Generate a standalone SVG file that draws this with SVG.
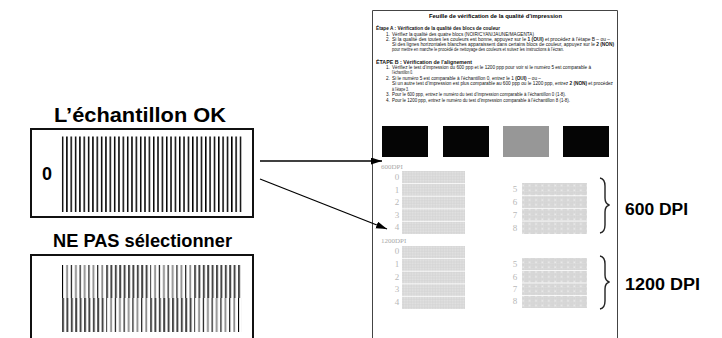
<svg xmlns="http://www.w3.org/2000/svg" width="722" height="338" viewBox="0 0 722 338">
<style>
.hd{font-family:"Liberation Sans",Arial,sans-serif;font-weight:bold;fill:#000}
.pt{font-family:"Liberation Sans",Arial,sans-serif;font-size:4.6px;fill:#111}
.pb{font-weight:bold}
.dg{font-family:"Liberation Serif","Times New Roman",serif;font-size:9px;fill:#b8b8b8;text-anchor:middle}
.dl{font-family:"Liberation Serif","Times New Roman",serif;font-size:7px;fill:#a8a8a8}
.conn{stroke:#000;stroke-width:1.3;fill:none}
.brace{stroke:#222;stroke-width:1.4;fill:none}
</style>
<defs>
<marker id="ah" markerUnits="userSpaceOnUse" markerWidth="12" markerHeight="8" refX="11" refY="3.5" orient="auto">
<path d="M0,0 L11,3.5 L0,7 z" fill="#000"/>
</marker>
<pattern id="vl" patternUnits="userSpaceOnUse" x="61.8" y="0" width="4.34" height="10">
<rect x="0" y="0" width="1.5" height="10" fill="#000"/>
</pattern>
<pattern id="alt" patternUnits="userSpaceOnUse" x="62" y="0" width="8.8" height="10">
<rect x="0" y="0" width="1.1" height="10" fill="#000"/>
<rect x="4.2" y="0" width="1.8" height="10" fill="#8a8a8a"/>
</pattern>
<pattern id="drk" patternUnits="userSpaceOnUse" x="62" y="0" width="4.4" height="10">
<rect x="0" y="0" width="2" height="10" fill="#454545"/>
</pattern>
<pattern id="grid" patternUnits="userSpaceOnUse" width="1.6" height="1.6">
<rect width="1.6" height="1.6" fill="#e2e2e2"/>
<path d="M0,0.3 H1.6 M0.3,0 V1.6" stroke="#d2d2d2" stroke-width="0.5"/>
</pattern>
<pattern id="grid2" patternUnits="userSpaceOnUse" width="6.4" height="4.8">
<rect width="6.4" height="4.8" fill="#dedede"/>
<path d="M0,0.3 H6.4 M0,1.9 H6.4 M0,3.5 H6.4 M0.3,0 V4.8 M1.9,0 V4.8 M3.5,0 V4.8 M5.1,0 V4.8" stroke="#d0d0d0" stroke-width="0.5"/>
<rect x="4" y="2.4" width="1.6" height="1.6" fill="#ececec"/>
</pattern>
</defs>
<rect width="722" height="338" fill="#fff"/>

<g id="page">
<path d="M372.5,338 V10.5 H617.5 V338" fill="none" stroke="#444" stroke-width="1"/>
<text class="hd" x="495.5" y="17.5" font-size="5.6" text-anchor="middle" textLength="133" lengthAdjust="spacingAndGlyphs">Feuille de vérification de la qualité d’impression</text>
<text class="pt pb" x="376" y="30" textLength="124" lengthAdjust="spacingAndGlyphs">Étape A :  Vérification de la qualité des blocs de couleur</text>
<text class="pt" x="386" y="36">1.</text>
<text class="pt" x="392" y="36" textLength="142" lengthAdjust="spacingAndGlyphs">Vérifiez la qualité des quatre blocs (NOIR/CYAN/JAUNE/MAGENTA)</text>
<text class="pt" x="386" y="41">2.</text>
<text class="pt" x="392" y="41" textLength="218" lengthAdjust="spacingAndGlyphs">Si la qualité des toutes les couleurs est bonne, appuyez sur le <tspan class="pb">1 (OUI)</tspan> et procédez à l’étape B – ou –</text>
<text class="pt" x="392" y="46" textLength="222" lengthAdjust="spacingAndGlyphs">Si des lignes horizontales blanches apparaissent dans certains blocs de couleur, appuyez sur le <tspan class="pb">2 (NON)</tspan></text>
<text class="pt" x="392" y="51" textLength="172" lengthAdjust="spacingAndGlyphs">pour mettre en marche le procédé de nettoyage des couleurs et suivez les instructions à l’écran.</text>
<text class="pt pb" x="376" y="64" textLength="96" lengthAdjust="spacingAndGlyphs">ÉTAPE B :  Vérification de l’alignement</text>
<text class="pt" x="386" y="69">1.</text>
<text class="pt" x="392" y="69" textLength="199" lengthAdjust="spacingAndGlyphs">Vérifiez le test d’impression du 600 ppp et le 1200 ppp pour voir si le numéro 5 est comparable à</text>
<text class="pt" x="392" y="74" textLength="21" lengthAdjust="spacingAndGlyphs">l’échantillon 0.</text>
<text class="pt" x="386" y="80">2.</text>
<text class="pt" x="392" y="80" textLength="149" lengthAdjust="spacingAndGlyphs">Si le numéro 5 est comparable à l’échantillon 0, entrez le 1 <tspan class="pb">(OUI)</tspan> – ou –</text>
<text class="pt" x="392" y="85" textLength="221" lengthAdjust="spacingAndGlyphs">Si un autre test d’impression est plus comparable au 600 ppp ou le 1200 ppp, entrez <tspan class="pb">2 (NON)</tspan> et procédez</text>
<text class="pt" x="392" y="91" textLength="17" lengthAdjust="spacingAndGlyphs">à l’étape 3.</text>
<text class="pt" x="386" y="96">3.</text>
<text class="pt" x="392" y="96" textLength="174" lengthAdjust="spacingAndGlyphs">Pour le 600 ppp, entrez le numéro du test d’impression comparable à l’échantillon 0 (1-8).</text>
<text class="pt" x="386" y="102">4.</text>
<text class="pt" x="392" y="102" textLength="178" lengthAdjust="spacingAndGlyphs">Pour le 1200 ppp, entrez le numéro du test d’impression comparable à l’échantillon 8 (1-8).</text>

<rect x="382" y="126" width="46" height="31" fill="#050505"/>
<rect x="443" y="126" width="46" height="31" fill="#050505"/>
<rect x="503" y="126" width="46" height="31" fill="#979797"/>
<rect x="563" y="126" width="46" height="31" fill="#050505"/>

<text class="dl" x="381" y="169">600DPI</text>
<rect x="402" y="171" width="63" height="63" fill="url(#grid)"/>
<path d="M402,183.6 H465 M402,196.2 H465 M402,208.8 H465 M402,221.4 H465" stroke="#fff" stroke-width="0.8"/>
<text class="dg" x="397" y="180">0</text>
<text class="dg" x="397" y="192.5">1</text>
<text class="dg" x="397" y="205">2</text>
<text class="dg" x="397" y="217.5">3</text>
<text class="dg" x="397" y="230">4</text>
<rect x="522" y="183" width="65" height="51" fill="url(#grid2)"/>
<path d="M522,195.7 H587 M522,208.4 H587 M522,221.1 H587" stroke="#fff" stroke-width="0.8"/>
<text class="dg" x="515" y="192">5</text>
<text class="dg" x="515" y="205">6</text>
<text class="dg" x="515" y="217.5">7</text>
<text class="dg" x="515" y="230.5">8</text>

<text class="dl" x="381" y="243">1200DPI</text>
<rect x="402" y="246" width="63" height="63" fill="url(#grid)"/>
<path d="M402,258.6 H465 M402,271.2 H465 M402,283.8 H465 M402,296.4 H465" stroke="#fff" stroke-width="0.8"/>
<text class="dg" x="397" y="254">0</text>
<text class="dg" x="397" y="267">1</text>
<text class="dg" x="397" y="280">2</text>
<text class="dg" x="397" y="291.5">3</text>
<text class="dg" x="397" y="305">4</text>
<rect x="522" y="258" width="65" height="50" fill="url(#grid2)"/>
<path d="M522,270.5 H587 M522,283 H587 M522,295.5 H587" stroke="#fff" stroke-width="0.8"/>
<text class="dg" x="515" y="267">5</text>
<text class="dg" x="515" y="280">6</text>
<text class="dg" x="515" y="292">7</text>
<text class="dg" x="515" y="304">8</text>
</g>

<g id="label-600">
<path class="brace" d="M600,178 Q605,179 605,186 V198 Q605,204 609.5,205 Q605,206 605,212 V225 Q605,232 600,233"/>
<text class="hd" x="625" y="215" font-size="16" textLength="63" lengthAdjust="spacingAndGlyphs">600 DPI</text>
</g>

<g id="label-1200">
<path class="brace" d="M600,256 Q605,257 605,264 V275 Q605,281 609.5,282 Q605,283 605,289 V301 Q605,308 600,309"/>
<text class="hd" x="625" y="290" font-size="16" textLength="75" lengthAdjust="spacingAndGlyphs">1200 DPI</text>
</g>

<g id="sample-ok">
<text class="hd" x="54" y="121.5" font-size="20" textLength="172" lengthAdjust="spacingAndGlyphs">L’échantillon OK</text>
<rect x="31" y="129" width="222" height="88" fill="#fff" stroke="#111" stroke-width="2"/>
<text x="47" y="180" font-family="'Liberation Sans',Arial,sans-serif" font-size="18" font-weight="bold" text-anchor="middle" fill="#000">0</text>
<rect x="61.8" y="136.5" width="180" height="75.5" fill="url(#vl)"/>
</g>

<g id="sample-bad">
<text class="hd" x="53" y="246.5" font-size="19" textLength="179" lengthAdjust="spacingAndGlyphs">NE PAS sélectionner</text>
<rect x="31" y="255" width="222" height="100" fill="#fff" stroke="#111" stroke-width="2"/>
<rect x="62" y="265" width="44.6" height="33" fill="url(#alt)"/>
<rect x="106.6" y="265" width="44" height="33" fill="url(#drk)"/>
<rect x="150.6" y="265" width="44" height="33" fill="url(#alt)"/>
<rect x="194.6" y="265" width="47.4" height="33" fill="url(#drk)"/>
<rect x="62" y="298" width="44.6" height="34" fill="url(#drk)"/>
<rect x="106.6" y="298" width="44" height="34" fill="url(#alt)"/>
<rect x="150.6" y="298" width="44" height="34" fill="url(#drk)"/>
<rect x="194.6" y="298" width="47.4" height="34" fill="url(#alt)"/>
</g>

<g id="connectors">
<line class="conn" x1="260" y1="161" x2="382" y2="161" marker-end="url(#ah)"/>
<line class="conn" x1="260" y1="179" x2="387" y2="229" marker-end="url(#ah)"/>
</g>
</svg>
